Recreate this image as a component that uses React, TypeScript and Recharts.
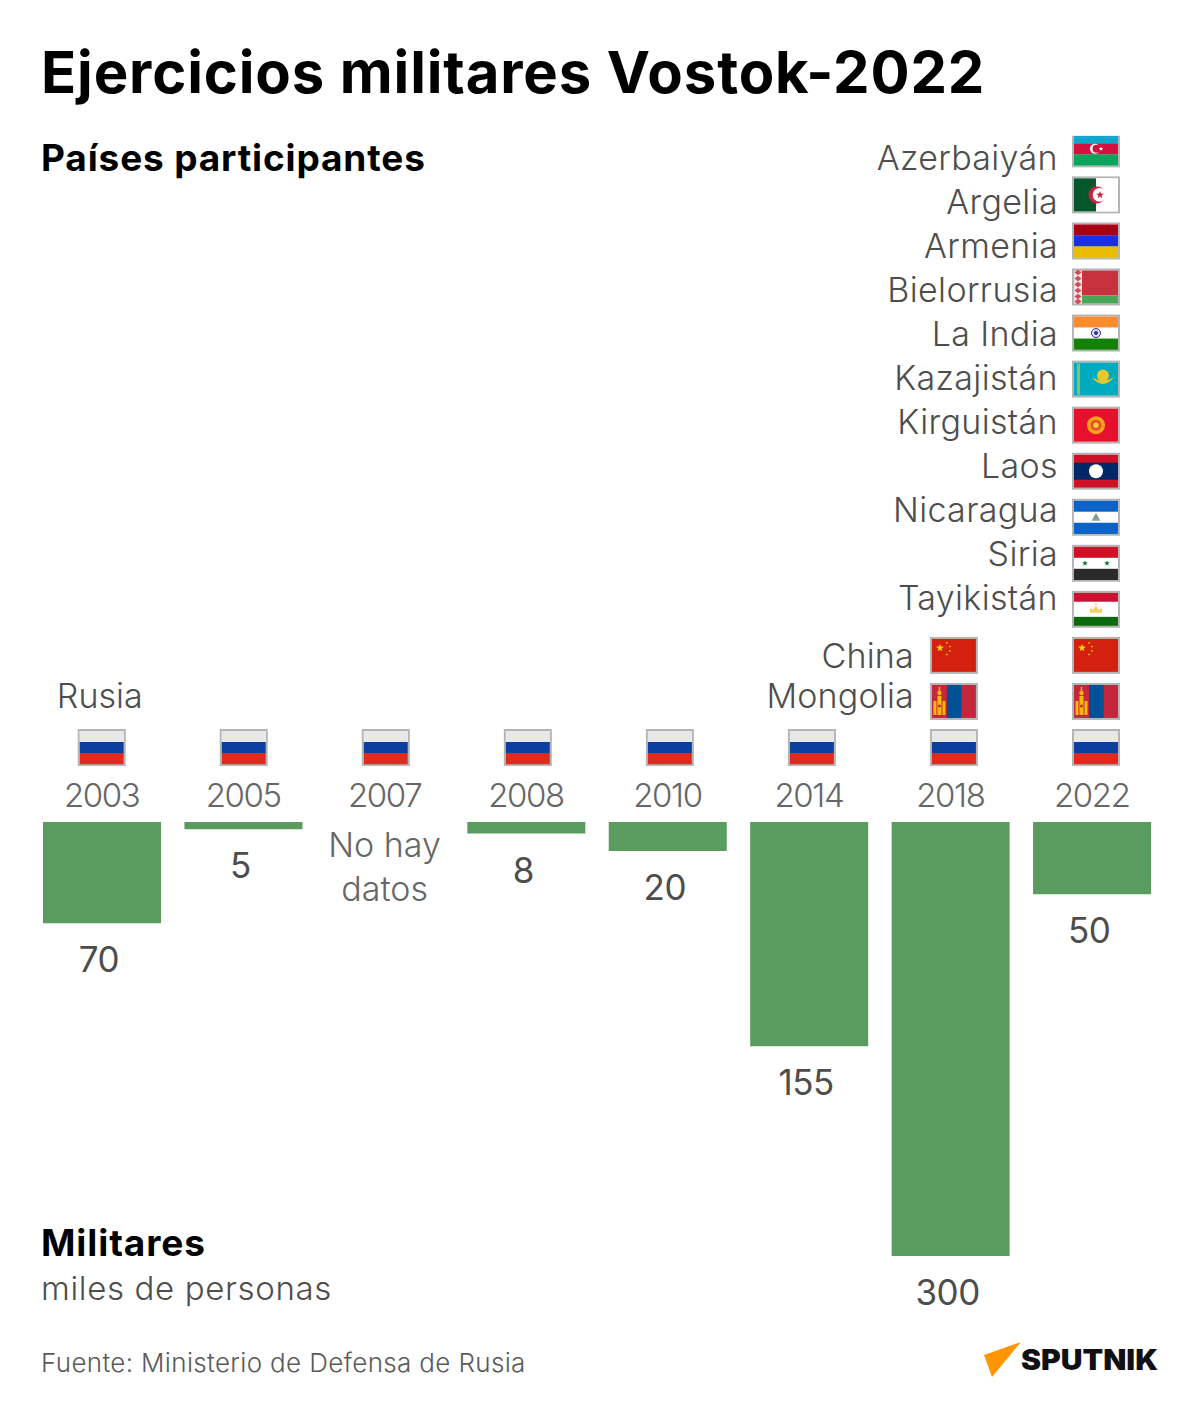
import React from 'react'
import { BarChart, Bar, XAxis, YAxis, LabelList } from 'recharts'

const years = ['2003', '2005', '2007', '2008', '2010', '2014', '2018', '2022']
const troops = [70, 5, null, 8, 20, 155, 300, 50]
const upperCountries = [
  'Azerbaiyán', 'Argelia', 'Armenia', 'Bielorrusia', 'La India', 'Kazajistán',
  'Kirguistán', 'Laos', 'Nicaragua', 'Siria', 'Tayikistán',
]
const flagsByYear: Record<string, string[]> = {
  '2003': ['Rusia'],
  '2005': ['Rusia'],
  '2007': ['Rusia'],
  '2008': ['Rusia'],
  '2010': ['Rusia'],
  '2014': ['Rusia'],
  '2018': ['Rusia', 'Mongolia', 'China'],
  '2022': ['Rusia', 'Mongolia', 'China', ...[...upperCountries].reverse()],
}
const noData = ['No hay', 'datos']

const chartData = years.map((year, i) => ({ year, troops: troops[i] }))

const FONT = 'Inter, sans-serif'
const GREEN = '#599c5e'
const AXIS_Y = 822

function Stripes({ colors }: { colors: string[] }) {
  const h = 33 / colors.length
  return (
    <>
      {colors.map((c, i) => (
        <rect key={i} x={0} y={i * h} width={44} height={h + 0.2} fill={c} />
      ))}
    </>
  )
}

function Star({ x, y, r, fill }: { x: number; y: number; r: number; fill: string }) {
  const pts = Array.from({ length: 10 }, (_, i) => {
    const a = -Math.PI / 2 + (i * Math.PI) / 5
    const rr = i % 2 ? r * 0.4 : r
    return `${x + rr * Math.cos(a)},${y + rr * Math.sin(a)}`
  }).join(' ')
  return <polygon points={pts} fill={fill} />
}

function FlagArt({ name }: { name: string }) {
  switch (name) {
    case 'Rusia':
      return <Stripes colors={['#e8e8e8', '#0b3fa0', '#de2b20']} />
    case 'Azerbaiyán':
      return (
        <>
          <Stripes colors={['#0aa8cf', '#d5103f', '#05a55c']} />
          <circle cx={21} cy={16.5} r={5} fill="#fff" />
          <circle cx={22.5} cy={16.5} r={4} fill="#d5103f" />
          <Star x={27} y={16.5} r={2.4} fill="#fff" />
        </>
      )
    case 'Argelia':
      return (
        <>
          <rect width={22} height={33} fill="#04572d" />
          <rect x={22} width={22} height={33} fill="#fff" />
          <circle cx={23} cy={16.5} r={8.5} fill="#d11f3c" />
          <circle cx={25.5} cy={16.5} r={6.8} fill="#fff" />
          <Star x={26} y={16.5} r={4} fill="#d11f3c" />
        </>
      )
    case 'Armenia':
      return <Stripes colors={['#a80014', '#1c2ee8', '#e8bc00']} />
    case 'Bielorrusia':
      return (
        <>
          <rect width={44} height={25} fill="#c8313e" />
          <rect y={25} width={44} height={8} fill="#4aa657" />
          <rect width={8} height={33} fill="#f4e0e2" />
          {[2, 8, 14, 20, 26, 31].map((y, i) => (
            <polygon key={i} points={`4,${y - 2.8} 7.5,${y} 4,${y + 2.8} 0.5,${y}`} fill="#c8313e" opacity={0.85} />
          ))}
        </>
      )
    case 'La India':
      return (
        <>
          <Stripes colors={['#fb8b2d', '#ffffff', '#138108']} />
          <circle cx={22} cy={16.5} r={4.5} fill="#dfe0f2" stroke="#2a2f96" strokeWidth={1} />
          <circle cx={22} cy={16.5} r={2} fill="#2a2f96" />
        </>
      )
    case 'Kazajistán':
      return (
        <>
          <rect width={44} height={33} fill="#00abc0" />
          <rect x={3} y={1} width={3} height={31} fill="#c6b94a" opacity={0.8} />
          <circle cx={29} cy={13} r={6} fill="#e7c72d" />
          <path d="M18 15 Q29 28 40 15 Q29 21 18 15 Z" fill="#e7c72d" />
        </>
      )
    case 'Kirguistán':
      return (
        <>
          <rect width={44} height={33} fill="#e8112d" />
          <circle cx={22} cy={16.5} r={9} fill="#f7a21b" />
          <circle cx={22} cy={16.5} r={5.5} fill="#e8512d" />
          <circle cx={22} cy={16.5} r={2.6} fill="#ffd23a" />
        </>
      )
    case 'Laos':
      return (
        <>
          <rect width={44} height={33} fill="#ce1126" />
          <rect y={8} width={44} height={17} fill="#002868" />
          <circle cx={22} cy={16.5} r={7} fill="#fff" />
        </>
      )
    case 'Nicaragua':
      return (
        <>
          <Stripes colors={['#0b63c5', '#ffffff', '#0b63c5']} />
          <polygon points="22,12 26.5,20 17.5,20" fill="#7fae8a" />
          <circle cx={22} cy={16.5} r={1.4} fill="#8a79c4" />
        </>
      )
    case 'Siria':
      return (
        <>
          <Stripes colors={['#ce1126', '#ffffff', '#2b2b2b']} />
          <Star x={11} y={16.5} r={3} fill="#007a3d" />
          <Star x={33} y={16.5} r={3} fill="#007a3d" />
        </>
      )
    case 'Tayikistán':
      return (
        <>
          <rect width={44} height={9} fill="#cc1230" />
          <rect y={9} width={44} height={15} fill="#fff" />
          <rect y={24} width={44} height={9} fill="#0c6a0c" />
          <path d="M16 20 L16 15 L19 17 L22 13 L25 17 L28 15 L28 20 Z" fill="#f6cf63" />
          <circle cx={22} cy={11.5} r={1} fill="#f6cf63" />
        </>
      )
    case 'China':
      return (
        <>
          <rect width={44} height={33} fill="#d4200f" />
          <Star x={8} y={9} r={4} fill="#ffde00" />
          <Star x={15} y={4} r={1.3} fill="#ffde00" />
          <Star x={18} y={7.5} r={1.3} fill="#ffde00" />
          <Star x={18} y={12} r={1.3} fill="#ffde00" />
          <Star x={15} y={15.5} r={1.3} fill="#ffde00" />
        </>
      )
    case 'Mongolia':
      return (
        <>
          <rect width={44} height={33} fill="#c4263c" />
          <rect x={15} width={14.5} height={33} fill="#015197" />
          <rect x={1.5} y={16} width={3} height={14} fill="#f9b90c" />
          <rect x={10.5} y={16} width={3} height={14} fill="#f9b90c" />
          <rect x={5.5} y={11} width={4} height={19} fill="#f9b90c" />
          <circle cx={7.5} cy={8} r={2.2} fill="#f9b90c" />
          <rect x={6.8} y={2} width={1.4} height={5} fill="#f9b90c" />
          <circle cx={7.5} cy={21} r={1.5} fill="#c4263c" />
        </>
      )
    default:
      return null
  }
}

function Flag({ name, cx, top, crop }: { name: string; cx: number; top: number; crop?: boolean }) {
  return (
    <g transform={`translate(${cx - 22},${top + 2})`}>
      <rect x={-1} y={-1} width={46} height={35} fill="none" stroke="#b5b5b5" strokeWidth={2} />
      <FlagArt name={name} />
      {crop && <rect x={-3} y={-4} width={50} height={7.5} fill="#fff" />}
    </g>
  )
}

function YearTick({ x, index, payload }: any) {
  const year = payload.value as string
  const flags = flagsByYear[year] ?? []
  const flagX = x + index * 0.6
  return (
    <g fontFamily={FONT}>
      <text x={x} y={AXIS_Y - 15} textAnchor="middle" fontSize={33} fontWeight={300} letterSpacing={-1.4} fill="#666">
        {year}
      </text>
      {flags.map((f, i) => (
        <Flag key={f} name={f} cx={flagX} top={729 - i * 46.05} crop={f === 'Azerbaiyán'} />
      ))}
      {index === 0 && (
        <text x={x - 2} y={708} textAnchor="middle" fontSize={34} fontWeight={300} fill="#4d4d4d">
          Rusia
        </text>
      )}
      {year === '2018' &&
        [
          { label: 'China', y: 668 },
          { label: 'Mongolia', y: 708 },
        ].map((t) => (
          <text key={t.label} x={flagX - 40} y={t.y} textAnchor="end" fontSize={34} fontWeight={300} letterSpacing={0.2} fill="#4d4d4d">
            {t.label}
          </text>
        ))}
      {year === '2022' &&
        upperCountries.map((c, i) => (
          <text key={c} x={flagX - 38} y={170 + i * 44} textAnchor="end" fontSize={34} fontWeight={300} letterSpacing={0.35} fill="#4d4d4d">
            {c}
          </text>
        ))}
      {troops[index] === null &&
        noData.map((line, i) => (
          <text key={line} x={x} y={857 + i * 44} textAnchor="middle" fontSize={34} fontWeight={300} fill="#666">
            {line}
          </text>
        ))}
    </g>
  )
}

function ValueLabel({ x, y, width, height, value }: any) {
  if (value === null || value === undefined) return null
  return (
    <text
      x={x + width / 2 - 3}
      y={Math.max(y, y + height) + 49}
      textAnchor="middle"
      fontFamily={FONT}
      fontSize={35}
      fontWeight={400}
      letterSpacing={-0.5}
      fill="#4d4d4d"
    >
      {value}
    </text>
  )
}

export default function App() {
  return (
    <div style={{ position: 'absolute', left: 0, top: 0, width: 1200, height: 1418, background: '#fff', overflow: 'hidden' }}>
      <BarChart
        width={1200}
        height={1418}
        data={chartData}
        margin={{ top: 0, right: 37.5, bottom: 162, left: 31 }}
      >
        <XAxis
          dataKey="year"
          orientation="top"
          height={AXIS_Y}
          axisLine={false}
          tickLine={false}
          interval={0}
          tick={<YearTick />}
        />
        <YAxis hide reversed domain={[0, 300]} />
        <Bar dataKey="troops" fill={GREEN} barSize={118} isAnimationActive={false}>
          <LabelList dataKey="troops" content={<ValueLabel />} />
        </Bar>
      </BarChart>
      <svg
        width={1200}
        height={1418}
        style={{ position: 'absolute', left: 0, top: 0, pointerEvents: 'none' }}
        fontFamily={FONT}
      >
        <text x={41} y={93} fontSize={58} fontWeight={700} letterSpacing={0.87} fill="#000">
          Ejercicios militares Vostok-2022
        </text>
        <text x={41} y={171} fontSize={37} fontWeight={700} letterSpacing={0.85} fill="#000">
          Países participantes
        </text>
        <text x={41} y={1256} fontSize={37} fontWeight={700} letterSpacing={0.9} fill="#000">
          Militares
        </text>
        <text x={41} y={1300} fontSize={33} fontWeight={300} letterSpacing={0.65} fill="#4d4d4d">
          miles de personas
        </text>
        <text x={41} y={1372} fontSize={26} fontWeight={300} letterSpacing={0.34} fill="#5a5a5a">
          Fuente: Ministerio de Defensa de Rusia
        </text>
        <polygon points="984,1355 1021,1342 992,1377" fill="#ff9600" />
        <text x={1021} y={1370} fontSize={28} fontWeight={900} fill="#111" textLength={137} lengthAdjust="spacingAndGlyphs">
          SPUTNIK
        </text>
      </svg>
    </div>
  )
}
